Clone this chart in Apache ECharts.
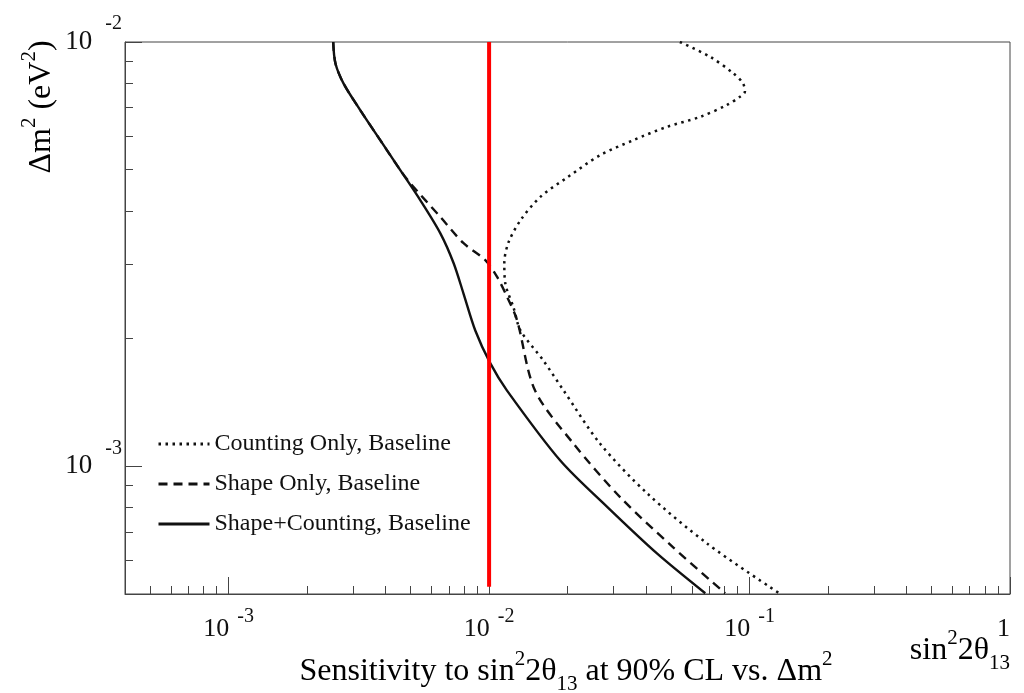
<!DOCTYPE html>
<html>
<head>
<meta charset="utf-8">
<script src="https://cdn.jsdelivr.net/npm/echarts@6/dist/echarts.min.js"></script>
<style>
  html, body { margin: 0; background: #fff; }
  #chart { width: 1024px; height: 693px; }
</style>
</head>
<body>
<div id="chart"></div>
<script>
const FONT = "Liberation Serif";

// sin^2(2θ13) sensitivity (x) against Δm^2 in eV^2 (y)
const countingX = [0.054, 0.0705, 0.0864, 0.0943, 0.096, 0.0919, 0.0817, 0.0646, 0.0482, 0.0358, 0.0267, 0.020, 0.0157, 0.0132, 0.01185, 0.01144, 0.01154, 0.0124, 0.0132, 0.0161, 0.0193, 0.0267, 0.0404, 0.0686, 0.130];
const countingY = [0.01, 0.00923, 0.00845, 0.0080, 0.00764, 0.00743, 0.0071, 0.00666, 0.00631, 0.00587, 0.00541, 0.0048, 0.00431, 0.0038, 0.00336, 0.00301, 0.0027, 0.00237, 0.00209, 0.00178, 0.00151, 0.00113, 0.000864, 0.000658, 0.000502];

const shapeX = [0.00252, 0.00257, 0.00276, 0.0032, 0.00382, 0.00456, 0.00498, 0.0065, 0.00796, 0.00967, 0.01075, 0.01175, 0.0128, 0.0150, 0.0211, 0.0319, 0.0509, 0.0806];
const shapeY = [0.01, 0.00891, 0.00799, 0.00691, 0.00587, 0.00499, 0.00465, 0.00387, 0.00336, 0.00306, 0.00279, 0.0025, 0.00221, 0.00151, 0.00113, 0.000845, 0.000644, 0.000502];

const bothX = [0.00252, 0.00257, 0.00276, 0.0032, 0.00382, 0.00456, 0.00544, 0.0065, 0.00731, 0.00798, 0.00885, 0.0101, 0.0117, 0.0188, 0.0284, 0.0441, 0.0676];
const bothY = [0.01, 0.00891, 0.00799, 0.00691, 0.00587, 0.00499, 0.00424, 0.00354, 0.00301, 0.00255, 0.00209, 0.00175, 0.00151, 0.00103, 0.000802, 0.000623, 0.000502];

// reference markers
const refX = 0.01;
const refYRange = [0.00052, 0.01];
const guideY = [0.003, 0.0015];

// axis ranges and ticks
const xRange = [0.0004, 1];
const yRange = [0.0005, 0.01];
const xMajor = [0.001, 0.01, 0.1, 1];
const xMinor = [0.0005, 0.0006, 0.0007, 0.0008, 0.0009,
  0.002, 0.003, 0.004, 0.005, 0.006, 0.007, 0.008, 0.009,
  0.02, 0.03, 0.04, 0.05, 0.06, 0.07, 0.08, 0.09,
  0.2, 0.3, 0.4, 0.5, 0.6, 0.7, 0.8, 0.9];
const yMajor = [0.001, 0.01];
const yMinor = [0.0006, 0.0007, 0.0008, 0.0009,
  0.002, 0.003, 0.004, 0.005, 0.006, 0.007, 0.008, 0.009];

const zip = (xs, ys) => xs.map((x, i) => [x, ys[i]]);

function powLabel(v) {
  const e = Math.round(Math.log10(v));
  if (e === 0) return "{b|1}";
  return "{b|10}{e|" + e + "}";
}

const ink = "#111";
const tickRich = {
  b: { fontFamily: FONT, fontSize: 26, color: ink, lineHeight: 44, verticalAlign: "middle" },
  e: { fontFamily: FONT, fontSize: 20, color: ink, lineHeight: 20, verticalAlign: "top", padding: [0, 0, 0, 8] }
};
const yTickRich = {
  b: { fontFamily: FONT, fontSize: 27, color: ink, lineHeight: 56, verticalAlign: "middle" },
  e: { fontFamily: FONT, fontSize: 20, color: ink, lineHeight: 20, verticalAlign: "top", padding: [0, 0, 0, 13] }
};
const titleRich = {
  n: { fontFamily: FONT, fontSize: 32, color: ink, lineHeight: 46, verticalAlign: "middle" },
  sup: { fontFamily: FONT, fontSize: 21, color: ink, lineHeight: 21, verticalAlign: "top" },
  sub: { fontFamily: FONT, fontSize: 21, color: ink, lineHeight: 21, verticalAlign: "bottom" }
};

function logAxis(range, extra) {
  return Object.assign({
    type: "log",
    logBase: 10,
    min: range[0],
    max: range[1],
    splitLine: { show: false },
    axisLine: { show: true, lineStyle: { color: "#444", width: 1 } }
  }, extra);
}

const chart = echarts.init(document.getElementById("chart"));

chart.setOption({
  animation: false,
  backgroundColor: "#fff",
  grid: { left: 125, right: 14, top: 42, bottom: 99, show: true, borderColor: "#444", borderWidth: 1 },
  xAxis: [
    logAxis(xRange, {
      position: "bottom",
      axisTick: { inside: true, length: 17, customValues: xMajor, lineStyle: { color: "#444" } },
      axisLabel: { customValues: xMajor, formatter: powLabel, rich: tickRich, margin: 13, alignMaxLabel: "right" }
    }),
    logAxis(xRange, {
      position: "bottom",
      offset: 0,
      axisLine: { show: false },
      axisTick: { inside: true, length: 8, customValues: xMinor, lineStyle: { color: "#444" } },
      axisLabel: { show: false }
    })
  ],
  yAxis: [
    logAxis(yRange, {
      position: "left",
      axisTick: { inside: true, length: 17, customValues: yMajor, lineStyle: { color: "#444" } },
      axisLabel: { customValues: yMajor, formatter: powLabel, rich: yTickRich, margin: 3 }
    }),
    logAxis(yRange, {
      position: "left",
      offset: 0,
      axisLine: { show: false },
      axisTick: { inside: true, length: 8, customValues: yMinor, lineStyle: { color: "#444" } },
      axisLabel: { show: false }
    })
  ],
  legend: {
    orient: "vertical",
    left: 152,
    top: 427,
    itemWidth: 51,
    itemHeight: 14,
    itemGap: 16,
    itemStyle: { opacity: 0 },
    lineStyle: { width: 3 },
    textStyle: { fontFamily: FONT, fontSize: 24, color: ink },
    data: ["Counting Only, Baseline", "Shape Only, Baseline", "Shape+Counting, Baseline"]
  },
  series: [
    {
      name: "guides",
      type: "line",
      data: [],
      silent: true,
      markLine: {
        silent: true,
        symbol: "none",
        label: { show: false },
        lineStyle: { color: "#666", type: [3, 3], width: 1 },
        data: guideY.map((y) => ({ yAxis: y }))
      }
    },
    {
      name: "Counting Only, Baseline",
      type: "line",
      symbol: "none",
      smooth: 0.3,
      data: zip(countingX, countingY),
      itemStyle: { color: ink },
      lineStyle: { color: ink, width: 2.5, type: [2.5, 4.5] }
    },
    {
      name: "Shape Only, Baseline",
      type: "line",
      symbol: "none",
      smooth: 0.3,
      data: zip(shapeX, shapeY),
      itemStyle: { color: ink },
      lineStyle: { color: ink, width: 2.4, type: [9, 6] }
    },
    {
      name: "Shape+Counting, Baseline",
      type: "line",
      symbol: "none",
      smooth: 0.3,
      data: zip(bothX, bothY),
      itemStyle: { color: ink },
      lineStyle: { color: ink, width: 2.4 }
    },
    {
      name: "reference",
      type: "line",
      symbol: "none",
      z: 5,
      data: refYRange.map((y) => [refX, y]),
      lineStyle: { color: "#ff0000", width: 4 }
    }
  ],
  graphic: [
    {
      type: "text",
      x: 42,
      y: 107,
      rotation: Math.PI / 2,
      style: {
        text: "{n|Δm}{sup|2}{n| (eV}{sup|2}{n|)}",
        rich: titleRich,
        align: "center",
        verticalAlign: "middle"
      }
    },
    {
      type: "text",
      x: 566,
      y: 672,
      style: {
        text: "{n|Sensitivity to sin}{sup|2}{n|2θ}{sub|13}{n| at 90% CL vs. Δm}{sup|2}",
        rich: titleRich,
        align: "center",
        verticalAlign: "middle"
      }
    },
    {
      type: "text",
      x: 1010,
      y: 651,
      style: {
        text: "{n|sin}{sup|2}{n|2θ}{sub|13}",
        rich: titleRich,
        align: "right",
        verticalAlign: "middle"
      }
    }
  ]
});
</script>
</body>
</html>
